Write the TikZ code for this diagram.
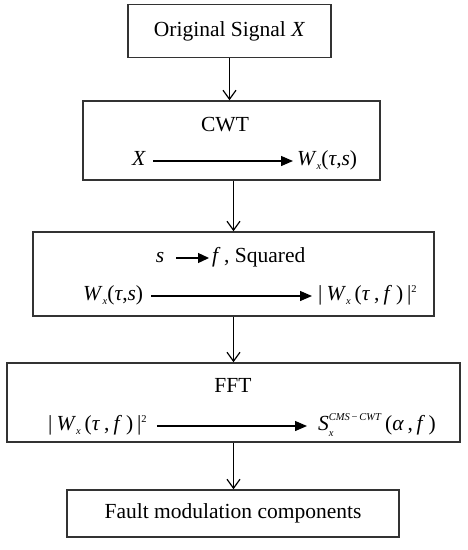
\documentclass[tikz,border=0pt]{standalone}
\usepackage{fontspec}
\setmainfont{Liberation Serif}
\usetikzlibrary{arrows.meta}
\newcommand\mi[1]{\textit{#1}}
\newcommand\sm[1]{{\fontsize{10.5}{10.5}\selectfont #1}}
\newcommand\Wx{\mi{W}\raisebox{-3.5pt}{\sm{\mi{x}}}}
\newcommand\gap{\hspace{4pt}}
\newcommand\sq{\raisebox{8pt}{\sm{2}}}
\begin{document}
\begin{tikzpicture}[x=1pt,y=-1pt,
  font=\fontsize{21.5}{25}\selectfont,
  box/.style={draw=black!80,line width=1.5pt,inner sep=0pt},
  lbl/.style={inner sep=0pt,text height=14pt,text depth=5pt},
  flow/.style={line width=1.2pt,-{Straight Barb[length=9pt,width=13pt,line width=1.2pt]}},
  inarrow/.style={line width=1.3pt,-{Triangle[length=12pt,width=10pt]}},
  shortarrow/.style={line width=1.3pt,-{Triangle[length=11pt,width=10pt]}}]
\useasboundingbox (0,0) rectangle (467,550);
% boxes
\node[box,minimum width=203pt,minimum height=53pt] (b1) at (229.5,31) {Original Signal \mi{X}};
\node[box,minimum width=297pt,minimum height=79pt] (b2) at (231.5,140.5) {};
\node[box,minimum width=401pt,minimum height=84pt] (b3) at (233.5,274) {};
\node[box,minimum width=453pt,minimum height=79pt] (b4) at (233.5,402.5) {};
\node[box,minimum width=332pt,minimum height=47pt] (b5) at (233,513.5) {Fault modulation components};
% box 2 content
\node[lbl] (cwt) at (225,127) {CWT};
\node[lbl] (x2) at (139,161) {\mi{X}};
\node[lbl,anchor=west] (w2) at (297,161) {\Wx(\mi{τ},\mi{s})};
\draw[inarrow] ([xshift=7pt]x2.east) -- ([xshift=-4pt]w2.west);
% box 3 content
\node[lbl] (s3) at (160,258) {\mi{s}};
\node[lbl,anchor=west] (f3) at (212,258) {\mi{f}\,, Squared};
\draw[shortarrow] ([xshift=12pt]s3.east) -- ([xshift=-3pt]f3.west);
\node[lbl,anchor=west] (w3) at (83,296) {\Wx(\mi{τ},\mi{s})};
\node[lbl,anchor=west] (m3) at (318,296) {|\gap\Wx\gap(\mi{τ}\gap,\gap\mi{f}\gap)\gap|\sq};
\draw[inarrow] ([xshift=8pt]w3.east) -- ([xshift=-6pt]m3.west);
% box 4 content
\node[lbl] (fft) at (233,388) {FFT};
\node[lbl,anchor=west] (m4) at (48,426) {|\gap\Wx\gap(\mi{τ}\gap,\gap\mi{f}\gap)\gap|\sq};
\node[lbl,anchor=west] (s4) at (318,426) {\mi{S}\rlap{\raisebox{-5.5pt}{\sm{\mi{x}}}}\raisebox{10pt}{\sm{\mi{CMS}\,−\,\mi{CWT}}}\,(\mi{α}\,,\,\mi{f}\,)};
\draw[inarrow] ([xshift=10pt]m4.east) -- ([xshift=-11pt]s4.west);
% connectors
\draw[flow] (b1.south) -- (b1.south |- b2.north);
\draw[flow] (b3.north |- b2.south) -- (b3.north);
\draw[flow] (b3.south) -- (b3.south |- b4.north);
\draw[flow] (b4.south) -- (b4.south |- b5.north);
\end{tikzpicture}
\end{document}
